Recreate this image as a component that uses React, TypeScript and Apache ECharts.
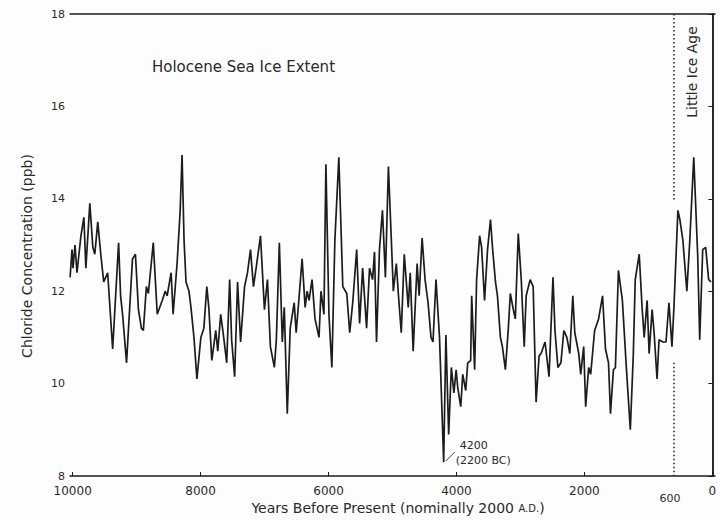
import { useEffect, useRef } from "react";
import * as echarts from "echarts";

// Years before present (nominally 2000 A.D.)
const years = [
  10040, 10011, 9995, 9964, 9933, 9902, 9871, 9825, 9794, 9732, 9685, 9654, 9608, 9561, 9515, 9453,
  9375, 9282, 9251, 9220, 9158, 9065, 9019, 8972, 8926, 8895, 8848, 8817, 8740, 8678, 8600, 8554,
  8523, 8461, 8430, 8368, 8321, 8290, 8259, 8228, 8182, 8151, 8104, 8058, 7996, 7949, 7903, 7872,
  7825, 7763, 7732, 7686, 7639, 7592, 7546, 7515, 7468, 7422, 7375, 7313, 7267, 7220, 7174, 7127,
  7064, 7002, 6955, 6909, 6847, 6816, 6769, 6723, 6692, 6645, 6599, 6537, 6506, 6459, 6413, 6366,
  6335, 6304, 6258, 6211, 6149, 6118, 6072, 6041, 5994, 5948, 5901, 5839, 5777, 5715, 5669, 5622,
  5560, 5514, 5467, 5405, 5359, 5312, 5281, 5250, 5204, 5157, 5111, 5064, 5018, 4987, 4940, 4909,
  4863, 4816, 4754, 4723, 4677, 4615, 4584, 4537, 4491, 4444, 4398, 4367, 4320, 4265, 4200, 4165,
  4122, 4080, 4040, 4005, 3979, 3933, 3902, 3855, 3824, 3778, 3762, 3716, 3685, 3638, 3607, 3561,
  3514, 3468, 3437, 3390, 3359, 3313, 3282, 3235, 3189, 3158, 3111, 3080, 3034, 2987, 2941, 2910,
  2848, 2801, 2755, 2708, 2677, 2615, 2553, 2491, 2460, 2414, 2367, 2321, 2274, 2228, 2181, 2150,
  2088, 2057, 2011, 1980, 1933, 1902, 1840, 1778, 1716, 1670, 1623, 1592, 1546, 1515, 1468, 1406,
  1344, 1282, 1236, 1205, 1143, 1096, 1065, 1019, 988, 941, 910, 864, 833, 771, 724, 678,
  631, 600, 538, 507, 460, 398, 352, 290, 228, 197, 150, 104, 57, 20,
];

// Chloride concentration (ppb)
const chloride = [
  12.3, 12.9, 12.5, 13.0, 12.4, 12.8, 13.2, 13.6, 12.5, 13.9, 12.95, 12.8, 13.5, 12.8, 12.2, 12.4,
  10.75, 13.05, 11.9, 11.5, 10.45, 12.7, 12.8, 11.6, 11.2, 11.15, 12.1, 11.95, 13.05, 11.5, 11.8, 12.0,
  11.9, 12.4, 11.5, 12.6, 13.7, 14.95, 13.1, 12.2, 12.0, 11.65, 11.0, 10.1, 11.0, 11.2, 12.1, 11.65,
  10.5, 11.15, 10.7, 11.5, 11.0, 10.45, 12.25, 10.95, 10.15, 12.2, 10.9, 12.1, 12.4, 12.9, 12.1, 12.55,
  13.2, 11.6, 12.25, 10.8, 10.35, 10.95, 13.05, 10.9, 11.65, 9.35, 11.2, 11.75, 11.1, 11.9, 12.7, 11.65,
  12.0, 11.8, 12.25, 11.4, 11.0, 12.0, 11.5, 14.75, 11.5, 10.35, 13.1, 14.9, 12.1, 11.95, 11.1, 11.75,
  12.9, 11.3, 12.5, 11.2, 12.5, 12.25, 12.85, 10.9, 12.9, 13.75, 12.3, 14.7, 13.1, 12.0, 12.6, 11.95,
  11.1, 12.8, 11.65, 12.4, 10.7, 12.6, 11.9, 13.15, 12.25, 11.75, 11.0, 10.9, 12.25, 11.0, 8.3, 11.05,
  8.9, 10.35, 9.8, 10.3, 9.9, 9.5, 10.2, 9.85, 10.45, 10.5, 11.9, 10.3, 12.25, 13.2, 12.95, 11.8,
  12.9, 13.55, 12.95, 12.2, 11.9, 11.0, 10.8, 10.3, 11.2, 11.95, 11.6, 11.4, 13.25, 12.25, 10.8, 11.9,
  12.25, 12.1, 9.6, 10.6, 10.65, 10.9, 10.15, 12.3, 11.15, 10.35, 10.45, 11.15, 11.0, 10.65, 11.9, 11.1,
  10.65, 10.2, 10.8, 9.5, 10.35, 10.2, 11.15, 11.4, 11.9, 10.75, 10.45, 9.35, 10.3, 10.35, 12.45, 11.8,
  10.35, 9.0, 10.6, 12.25, 12.8, 11.6, 11.0, 11.8, 10.65, 11.6, 11.1, 10.1, 10.95, 10.9, 10.9, 11.75,
  10.8, 11.65, 13.75, 13.55, 13.1, 12.0, 13.1, 14.9, 12.75, 10.95, 12.9, 12.95, 12.25, 12.2,
];

const xTickValues = [0, 2000, 4000, 6000, 8000, 10000];
const xRange = [-42, 10042];
const yRange = [8, 18];
const yInterval = 2;

// Little Ice Age boundary (years BP) and the gap in its dotted marker
const littleIceAgeYear = 600;
const littleIceAgeGap = [10.45, 13.95];

// The 4.2 ka event
const eventYear = 4200;
const eventLabel = "4200";
const eventSubLabel = "(2200 BC)";

const FONT = "DejaVu Sans, Liberation Sans, Arial, sans-serif";
const INK = "#1c1c1c";
const TEXT = "#2a2a2a";

export default function App() {
  const ref = useRef<HTMLDivElement>(null);

  useEffect(() => {
    if (!ref.current) return;
    const chart = echarts.init(ref.current, null, { renderer: "svg" });

    const data = years.map((y, i) => [y, chloride[i]]);
    const axisLineStyle = { color: INK, width: 1.5 };
    const plain = (v: number) => String(v);

    chart.setOption({
      animation: false,
      backgroundColor: "#fdfdfd",
      grid: { left: 70, right: 6, top: 14, bottom: 44 },
      xAxis: [
        {
          type: "value",
          position: "bottom",
          inverse: true,
          min: xRange[0],
          max: xRange[1],
          axisLine: { show: true, lineStyle: axisLineStyle },
          axisTick: { show: true, inside: true, length: 4, customValues: xTickValues, lineStyle: { color: INK } },
          axisLabel: {
            customValues: xTickValues,
            formatter: plain,
            margin: 9,
            fontSize: 12,
            color: TEXT,
            fontFamily: FONT,
          },
          splitLine: { show: false },
        },
        {
          type: "value",
          position: "top",
          inverse: true,
          min: xRange[0],
          max: xRange[1],
          axisLine: { show: true, lineStyle: axisLineStyle },
          axisTick: { show: false },
          axisLabel: { show: false },
          splitLine: { show: false },
        },
      ],
      yAxis: [
        {
          type: "value",
          position: "left",
          min: yRange[0],
          max: yRange[1],
          interval: yInterval,
          axisLine: { show: true, lineStyle: axisLineStyle },
          axisTick: { show: true, inside: false, length: 3, lineStyle: { color: INK } },
          axisLabel: { formatter: plain, margin: 5, fontSize: 11, color: TEXT, fontFamily: FONT },
          splitLine: { show: false },
        },
        {
          type: "value",
          position: "right",
          min: yRange[0],
          max: yRange[1],
          interval: yInterval,
          axisLine: { show: true, lineStyle: axisLineStyle },
          axisTick: { show: true, inside: true, length: 4, lineStyle: { color: INK } },
          axisLabel: { show: false },
          splitLine: { show: false },
        },
      ],
      series: [
        {
          type: "line",
          xAxisIndex: 0,
          yAxisIndex: 0,
          data,
          symbol: "none",
          smooth: false,
          lineStyle: { color: INK, width: 1.7 },
          markLine: {
            silent: true,
            symbol: ["none", "none"],
            label: { show: false },
            lineStyle: { color: "#2a2a2a", width: 1.6, type: [1.5, 2.5] },
            data: [
              [{ coord: [littleIceAgeYear, yRange[1]] }, { coord: [littleIceAgeYear, littleIceAgeGap[1]] }],
              [{ coord: [littleIceAgeYear, littleIceAgeGap[0]] }, { coord: [littleIceAgeYear, yRange[0]] }],
            ],
          },
        },
      ],
    });

    const eventIdx = years.indexOf(eventYear);
    const [ex, ey] = chart.convertToPixel({ xAxisIndex: 0, yAxisIndex: 0 }, [eventYear, chloride[eventIdx]]);
    const [liaX] = chart.convertToPixel({ xAxisIndex: 0, yAxisIndex: 0 }, [littleIceAgeYear, yRange[0]]);
    const [, yTop] = chart.convertToPixel({ xAxisIndex: 0, yAxisIndex: 0 }, [0, yRange[1]]);
    const [, yBottom] = chart.convertToPixel({ xAxisIndex: 0, yAxisIndex: 0 }, [0, yRange[0]]);

    chart.setOption({
      graphic: [
        {
          type: "text",
          x: 152,
          y: 67,
          style: { text: "Holocene Sea Ice Extent", font: `15px ${FONT}`, fill: TEXT, verticalAlign: "middle" },
        },
        {
          type: "text",
          x: 27,
          y: 256,
          rotation: Math.PI / 2,
          style: {
            text: "Chloride Concentration (ppb)",
            font: `14px ${FONT}`,
            fill: TEXT,
            align: "center",
            verticalAlign: "middle",
          },
        },
        {
          type: "text",
          x: 398,
          y: yBottom + 32,
          style: {
            text: "Years Before Present (nominally 2000 {sc|A.D.})",
            font: `14px ${FONT}`,
            fill: TEXT,
            align: "center",
            verticalAlign: "middle",
            rich: { sc: { fontSize: 10, fontFamily: FONT, fill: TEXT } },
          },
        },
        {
          type: "text",
          x: liaX + 18,
          y: yTop + 58,
          rotation: Math.PI / 2,
          style: {
            text: "Little Ice Age",
            font: `14px ${FONT}`,
            fill: TEXT,
            align: "center",
            verticalAlign: "middle",
          },
        },
        {
          type: "text",
          x: liaX - 4,
          y: yBottom + 22,
          style: { text: String(littleIceAgeYear), font: `11px ${FONT}`, fill: TEXT, align: "center", verticalAlign: "middle" },
        },
        {
          type: "line",
          shape: { x1: ex + 2, y1: ey - 1, x2: ex + 11, y2: ey - 10 },
          style: { stroke: "#444", lineWidth: 1 },
        },
        {
          type: "text",
          x: ex + 16,
          y: ey - 17,
          style: { text: eventLabel, font: `11px ${FONT}`, fill: TEXT, verticalAlign: "middle" },
        },
        {
          type: "text",
          x: ex + 12,
          y: ey - 2,
          style: { text: eventSubLabel, font: `11px ${FONT}`, fill: TEXT, verticalAlign: "middle" },
        },
      ],
    });

    return () => chart.dispose();
  }, []);

  return <div ref={ref} style={{ position: "fixed", left: 0, top: 0, width: 721, height: 520 }} />;
}
